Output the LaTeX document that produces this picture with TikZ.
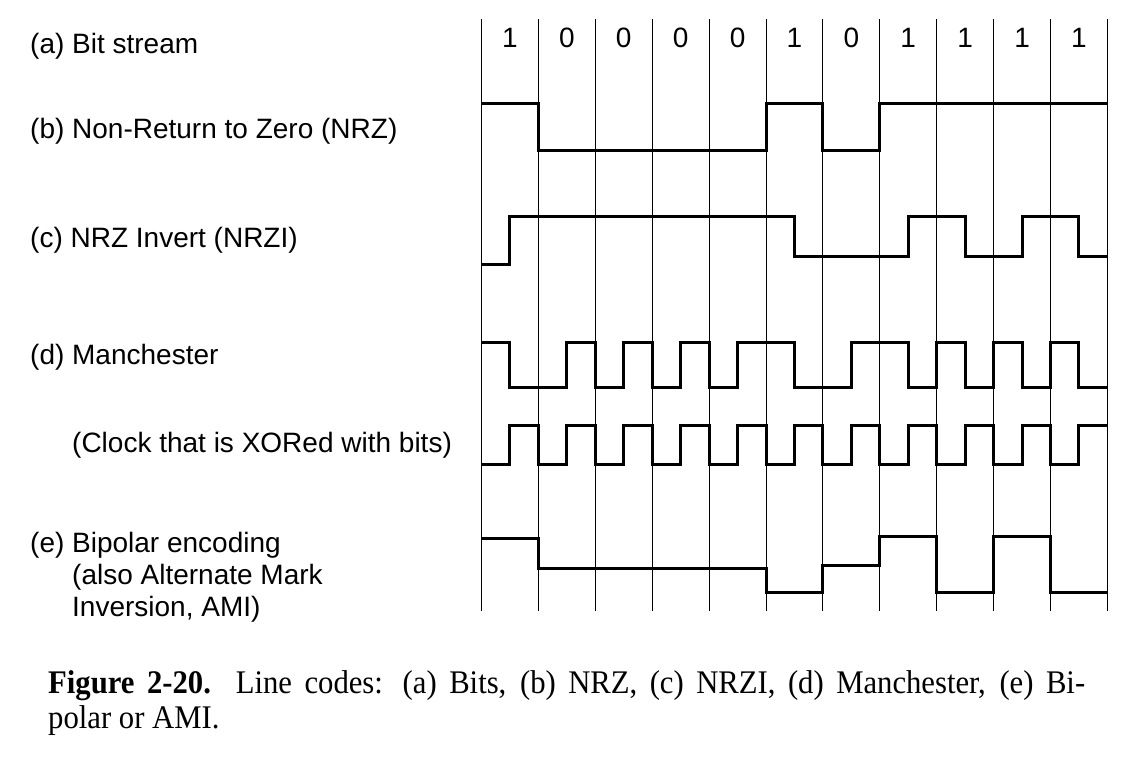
\documentclass[tikz,border=0pt]{standalone}
\usepackage{fontspec}
\setmainfont{Liberation Serif}
\newfontfamily\capfont[FakeStretch=0.93]{Liberation Serif}
\newfontfamily\labfont{Liberation Sans}
\newcommand\hx[1]{481.5+(#1)*28.45}
\begin{document}
\begin{tikzpicture}[x=1pt,y=-1pt,
  sig/.style={line width=3pt, line join=miter},
  gridline/.style={line width=1pt},
  lbl/.style={anchor=base west, inner sep=0pt, font=\labfont\fontsize{28}{32}\selectfont},
  digit/.style={anchor=base, inner sep=0pt, font=\labfont\fontsize{28}{32}\selectfont},
  captext/.style={anchor=base west, inner sep=0pt, font=\capfont\fontsize{33}{38}\selectfont}]
\useasboundingbox (0,0) rectangle (1130,758);
% grid
\foreach \i in {0,...,11} \draw[gridline] ({\hx{2*\i}},19) -- ({\hx{2*\i}},611);
% bits
\foreach \b [count=\i from 0] in {1,0,0,0,0,1,0,1,1,1,1}
  \node[digit] (bit\i) at ({\hx{2*\i+1}},47) {\b};
% labels
\node[lbl] (la) at (30,53) {(a) Bit stream};
\node[lbl] (lb) at (30,138) {(b) Non-Return to Zero (NRZ)};
\node[lbl] (lc) at (30,247) {(c) NRZ Invert (NRZI)};
\node[lbl] (ld) at (30,364) {(d) Manchester};
\node[lbl] (lclk) at (72,452) {(Clock that is XORed with bits)};
\node[lbl] (le1) at (30,552) {(e) Bipolar encoding};
\node[lbl] (le2) at (72,584) {(also Alternate Mark};
\node[lbl] (le3) at (72,616) {Inversion, AMI)};
% NRZ
\draw[sig] ({\hx{0}},103) -- ({\hx{2}},103) -- ({\hx{2}},150) -- ({\hx{10}},150) -- ({\hx{10}},103) -- ({\hx{12}},103) -- ({\hx{12}},150) -- ({\hx{14}},150) -- ({\hx{14}},103) -- ({\hx{22}},103);
% NRZI
\draw[sig] ({\hx{0}},264) -- ({\hx{1}},264) -- ({\hx{1}},216) -- ({\hx{11}},216) -- ({\hx{11}},256) -- ({\hx{15}},256) -- ({\hx{15}},216) -- ({\hx{17}},216) -- ({\hx{17}},256) -- ({\hx{19}},256) -- ({\hx{19}},216) -- ({\hx{21}},216) -- ({\hx{21}},256) -- ({\hx{22}},256);
% Manchester
\draw[sig] ({\hx{0}},342) -- ({\hx{1}},342) -- ({\hx{1}},387) -- ({\hx{3}},387) -- ({\hx{3}},342) -- ({\hx{4}},342) -- ({\hx{4}},387) -- ({\hx{5}},387) -- ({\hx{5}},342) -- ({\hx{6}},342) -- ({\hx{6}},387) -- ({\hx{7}},387) -- ({\hx{7}},342) -- ({\hx{8}},342) -- ({\hx{8}},387) -- ({\hx{9}},387) -- ({\hx{9}},342) -- ({\hx{11}},342) -- ({\hx{11}},387) -- ({\hx{13}},387) -- ({\hx{13}},342) -- ({\hx{15}},342) -- ({\hx{15}},387) -- ({\hx{16}},387) -- ({\hx{16}},342) -- ({\hx{17}},342) -- ({\hx{17}},387) -- ({\hx{18}},387) -- ({\hx{18}},342) -- ({\hx{19}},342) -- ({\hx{19}},387) -- ({\hx{20}},387) -- ({\hx{20}},342) -- ({\hx{21}},342) -- ({\hx{21}},387) -- ({\hx{22}},387);
% Clock
\draw[sig] ({\hx{0}},464) \foreach \k in {0,...,10} { -- ({\hx{2*\k}},464) -- ({\hx{2*\k+1}},464) -- ({\hx{2*\k+1}},425) -- ({\hx{2*\k+2}},425) };
% Bipolar
\draw[sig] ({\hx{0}},538) -- ({\hx{2}},538) -- ({\hx{2}},568) -- ({\hx{10}},568) -- ({\hx{10}},592) -- ({\hx{12}},592) -- ({\hx{12}},565) -- ({\hx{14}},565) -- ({\hx{14}},536) -- ({\hx{16}},536) -- ({\hx{16}},592) -- ({\hx{18}},592) -- ({\hx{18}},536) -- ({\hx{20}},536) -- ({\hx{20}},592) -- ({\hx{22}},592);
% caption
\node[captext] (cap1) at (48,693) {\makebox[1037pt][s]{\textbf{Figure 2-20.}\ \ Line codes: (a) Bits, (b) NRZ, (c) NRZI, (d) Manchester, (e) Bi-}};
\node[captext] (cap2) at (48,728) {polar or AMI.};
\end{tikzpicture}
\end{document}
